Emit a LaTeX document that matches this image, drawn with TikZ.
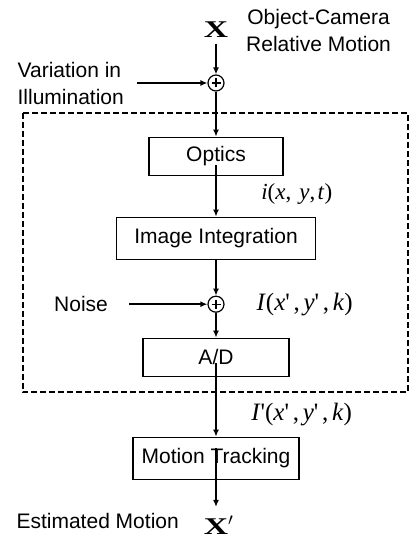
\documentclass[tikz,border=0pt]{standalone}
\usepackage{fontspec}
\setmainfont{Liberation Sans}
\newfontfamily\eqfont{Liberation Serif}
\usetikzlibrary{positioning, arrows.meta}
\usetikzlibrary{calc}
\newcommand{\vr}[1]{\textit{#1}}
\newcommand{\pr}{\textquotesingle}
\newcommand{\cm}{\hspace{0.15em},\hspace{0.15em}}
\newcommand{\wideX}{\scalebox{1.4}[1]{X}}
\tikzset{
  font=\fontsize{21}{27}\selectfont,
  node distance=0.5cm and 0.2cm,
  >={Latex[length=7pt, width=6pt]},
  blk/.style={draw, rectangle, line width=1.2pt, minimum height=38pt, align=center},
  sumn/.style={draw, circle, line width=1.2pt, minimum size=16pt, inner sep=0pt,
    path picture={\draw[line width=1.1pt] ([xshift=-4.5pt]path picture bounding box.center) -- ++(9pt,0pt)
      ([yshift=-4.5pt]path picture bounding box.center) -- ++(0pt,9pt);}},
  sig/.style={->, line width=2pt},
  eq/.style={font=\fontsize{25}{29}\selectfont\eqfont},
  bvec/.style={font=\fontsize{24}{26}\selectfont\eqfont\bfseries}
}

\begin{document}
\begin{tikzpicture}[x=1pt, y=1pt]
        \useasboundingbox (-216,83) rectangle (193,-452);
        % processing chain
        \node[sumn] (sum1) at (0,0) {};
        \node[blk, minimum width=134pt, below=45pt of sum1] (optics) {Optics};
        \node[blk, minimum width=199pt, minimum height=42pt, below=40.8pt of optics] (integ) {Image Integration};
        \node[sumn, below=35.8pt of integ] (sum2) {};
        \node[blk, minimum width=146pt, below=24.8pt of sum2] (ad) {A/D};
        \node[blk, minimum width=166pt, minimum height=42pt, below=59.8pt of ad] (track) {Motion Tracking};

        % inputs and outputs
        \node[bvec, above=33pt of sum1] (xin) {\wideX};
        \node[right=11pt of xin, align=center] (motion) {Object-Camera\\ Relative Motion};
        \node[left=80pt of sum1, align=left] (illum) {Variation in\\ Illumination};
        \node[left=96pt of sum2] (noise) {Noise};
        \node[eq, right=28.5pt of sum2] (isum) {\vr{I}(\vr{x}\pr\cm\vr{y}\pr\cm\vr{k})};
        \node[bvec, inner ysep=1pt, below=35.3pt of track] (xout) {\wideX\rlap{$'$}};
        \node[left=18pt of xout, yshift=5pt] (est) {Estimated Motion};

        \draw[sig, shorten <=2.2pt] (xin) -- (sum1);
        \draw[sig, shorten <=9.6pt] (illum.east |- sum1) -- (sum1);
        \draw[sig] (sum1) -- (optics);
        \draw[sig] ([yshift=-9pt]optics.center) -- node[eq, font=\fontsize{23}{27}\selectfont\eqfont, pos=0.56, right=41pt] (icont) {\vr{i}(\vr{x},\hspace{0.35em}\vr{y},\hspace{0.1em}\vr{t})} (integ);
        \draw[sig] (integ) -- (sum2);
        \draw[sig, shorten <=17.7pt] (noise.east |- sum2) -- (sum2);
        \draw[sig] (sum2) -- (ad);
        \draw[sig] ([yshift=-6pt]ad.center) -- node[eq, pos=0.7, right=31pt] (idig) {\vr{I}\pr(\vr{x}\pr\cm\vr{y}\pr\cm\vr{k})} (track);
        \draw[sig, shorten >=8.2pt] ([yshift=10pt]track.center) -- (xout);

        % camera boundary
        \draw[line width=2pt, dash pattern=on 6pt off 3pt]
          ($(optics.north)+(-193pt,24pt)$) rectangle ($(ad.south)+(192pt,-15.4pt)$);
\end{tikzpicture}
\end{document}
